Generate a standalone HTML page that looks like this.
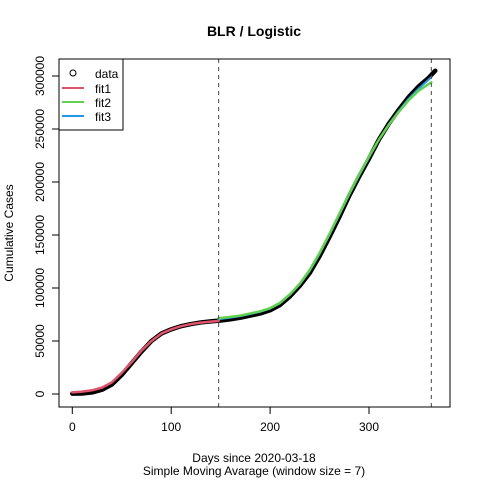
<!DOCTYPE html>
<html><head><meta charset="utf-8"><style>
body{margin:0;background:#fff}
svg{font-family:"Liberation Sans",Arial,sans-serif}
</style></head><body>
<svg id="chart" width="480" height="480" viewBox="0 0 480 480">
<rect width="480" height="480" fill="#fff"/>
<text x="254" y="36" text-anchor="middle" font-size="14" font-weight="bold">BLR / Logistic</text>
<text x="254" y="462" text-anchor="middle" font-size="12">Days since 2020-03-18</text>
<text x="254" y="475" text-anchor="middle" font-size="12">Simple Moving Avarage (window size = 7)</text>
<text transform="translate(13,233) rotate(-90)" text-anchor="middle" font-size="12">Cumulative Cases</text>
<g id="axes"></g>
<g id="marks"></g>
<rect x="59" y="59" width="391" height="348" fill="none" stroke="#000"/>
<g>
<rect x="59" y="59" width="64" height="71" fill="#fff" stroke="#000"/>
<circle cx="73" cy="73" r="3" fill="none" stroke="#000"/>
<text x="95" y="78" font-size="12">data</text>
<line x1="62" y1="88" x2="84" y2="88" stroke="#DF536B" stroke-width="2"/>
<text x="95" y="93" font-size="12">fit1</text>
<line x1="62" y1="102" x2="84" y2="102" stroke="#61D04F" stroke-width="2"/>
<text x="95" y="107" font-size="12">fit2</text>
<line x1="62" y1="116" x2="84" y2="116" stroke="#2297E6" stroke-width="2"/>
<text x="95" y="121" font-size="12">fit3</text>
</g>
</svg>
<script>
const dataDays=[0,10,20,30,40,50,60,70,80,90,100,110,120,130,140,150,160,170,180,190,200,210,220,230,240,250,260,270,280,290,300,310,320,330,340,350,360,367];
const dataCases=[0.3,0.5,1.5,4,9,18,29,40,50,57,61,64,66,67.5,68.5,69.3,70.5,72,74,76,79,84,92,102,114,130,148,167,187,205,222,240,255,268,280,290,298,305];
const fit1Days=[0,10,20,30,40,50,60,70,80,90,100,110,120,130,140,148];
const fit1Cases=[1.5,2.2,3.5,6,11,20,30,41,50,57,61,64,66,67.3,68.3,69];
const fit2Days=[148,160,170,180,190,200,210,220,230,240,250,260,270,280,290,300,310,320,330,340,350,363];
const fit2Cases=[71.5,72.8,74,76,78,81,86,94,104,117,133,151,170,189,207,224,240,254,266,277,286,294];
const fit3Days=[148,160,170,180,190,200,210,220,230,240,250,260,270,280,290,300,310,320,330,340,350,363];
const fit3Cases=[70.5,72,73.5,75.5,77.5,80.5,85.5,93.5,103.5,116,132,150,169,188,206,223,240,254.5,267,278.5,288,299];
const xTicks=[0,100,200,300];
const yTicks=[0,50000,100000,150000,200000,250000,300000];
const vLines=[148,363];
const NS="http://www.w3.org/2000/svg";
const xs=d=>72.3+d*0.989;
const ys=v=>394-v*1.06/1000;
const yk=v=>ys(v*1000);
function mk(tag,attrs,parent){const e=document.createElementNS(NS,tag);for(const k in attrs)e.setAttribute(k,attrs[k]);parent.appendChild(e);return e;}
const axes=document.getElementById('axes'),marks=document.getElementById('marks');
xTicks.forEach(t=>{
  const l=mk('line',{x1:xs(t),x2:xs(t),y1:407,y2:414,stroke:'#000'},axes);
  
  
  const tx=mk('text',{x:xs(t),y:431,'text-anchor':'middle','font-size':12},axes);tx.textContent=t;
  
  
});
mk('line',{x1:xs(0),x2:xs(300),y1:407,y2:407,stroke:'#000'},axes);
yTicks.forEach(t=>{
  const l=mk('line',{x1:52,x2:59,y1:ys(t),y2:ys(t),stroke:'#000'},axes);
  
  
  const tx=mk('text',{x:0,y:0,'text-anchor':'middle','font-size':12,transform:`translate(44,${ys(t)}) rotate(-90)`},axes);tx.textContent=t;
  
  
});
mk('line',{x1:59,x2:59,y1:ys(0),y2:ys(300000),stroke:'#000'},axes);
function path(dd,vv,color,w,name){
  const p=mk('polyline',{points:dd.map((d,i)=>xs(d)+','+yk(vv[i])).join(' '),fill:'none',stroke:color,'stroke-width':w,'stroke-linejoin':'round','stroke-linecap':'round'},marks);
  
  
}
path(dataDays,dataCases,'#000',4.5,'data-series');
path(fit3Days,fit3Cases,'#2297E6',2,'fit3-line');
path(fit1Days,fit1Cases,'#DF536B',2.5,'fit1-line');
path(fit2Days,fit2Cases,'#61D04F',2.5,'fit2-line');
vLines.forEach(v=>{
  const l=mk('line',{x1:xs(v),x2:xs(v),y1:59,y2:407,stroke:'#444','stroke-dasharray':'4,4'},marks);
  
  
});
</script>
</body></html>
